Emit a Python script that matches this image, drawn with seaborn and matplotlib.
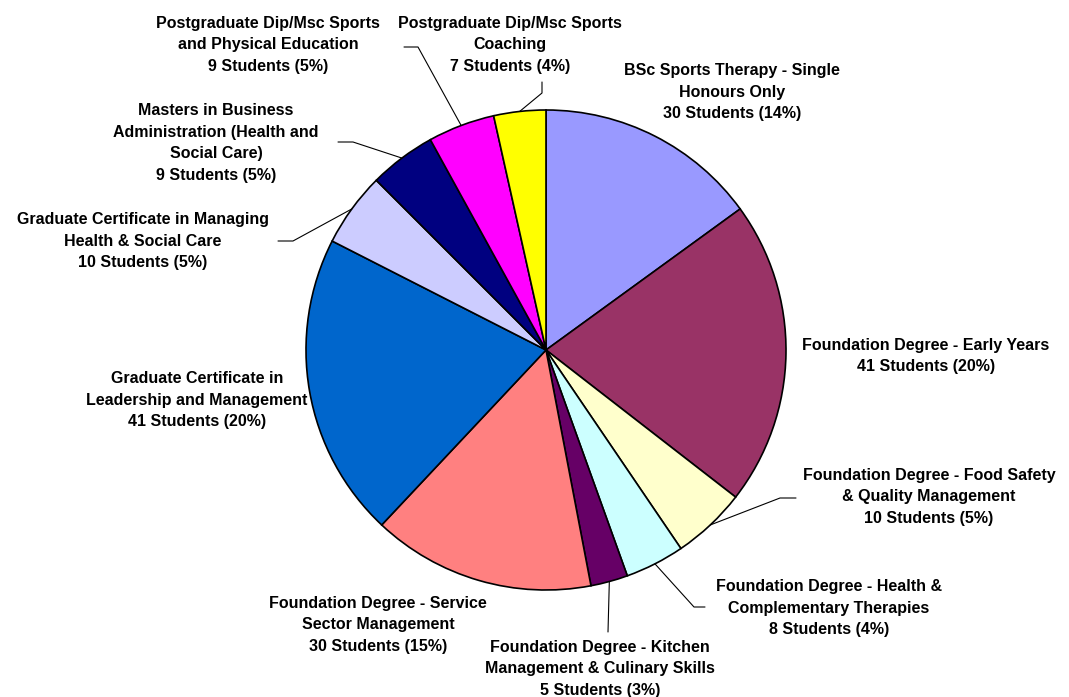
import numpy as np
import matplotlib
matplotlib.use("Agg")
import matplotlib.pyplot as plt
import seaborn as sns

# data, clockwise from 12 o'clock
programmes = [
    "BSc Sports Therapy - Single\nHonours Only",
    "Foundation Degree - Early Years",
    "Foundation Degree - Food Safety\n& Quality Management",
    "Foundation Degree - Health &\nComplementary Therapies",
    "Foundation Degree - Kitchen\nManagement & Culinary Skills",
    "Foundation Degree - Service\nSector Management",
    "Graduate Certificate in\nLeadership and Management",
    "Graduate Certificate in Managing\nHealth & Social Care",
    "Masters in Business\nAdministration (Health and\nSocial Care)",
    "Postgraduate Dip/Msc Sports\nand Physical Education",
    "Postgraduate Dip/Msc Sports\nCoaching",
]
students = [30, 41, 10, 8, 5, 30, 41, 10, 9, 9, 7]
percent_labels = ["14%", "20%", "5%", "4%", "3%", "15%", "20%", "5%", "5%", "5%", "4%"]
colors = ["#9999FF", "#993366", "#FFFFCC", "#CCFFFF", "#660066", "#FF8080",
          "#0066CC", "#CCCCFF", "#000080", "#FF00FF", "#FFFF00"]

# layout (pixel coords, y from top)
W, H = 1069, 697
center = (546, 350)
radius = 240
label_pos = [(732, 92), (926, 356), (929, 497), (829, 608), (600, 669), (378, 625),
             (197, 400), (143, 241), (216, 143), (268, 45), (510, 45)]
# (elbow, end) of leader lines, None = no leader
leaders = [None, None, ((780, 498), (796, 498)), ((694, 607), (705, 607)),
           ((608, 632), (608, 632)), None, None, ((293, 241), (278, 241)),
           ((353, 142), (338, 142)), ((418, 47), (404, 47)), ((542, 93), (542, 82))]

sns.set_style("white")
plt.rcParams["font.family"] = ["Liberation Sans", "DejaVu Sans"]

fig = plt.figure(figsize=(W / 100, H / 100), dpi=100)
ax = fig.add_axes([0, 0, 1, 1])

wedges, _ = ax.pie(students, colors=sns.color_palette(colors), startangle=90,
                   counterclock=False, center=(center[0], H - center[1]), radius=radius,
                   wedgeprops=dict(edgecolor="black", linewidth=1.2), frame=True)
ax.set_xlim(0, W)
ax.set_ylim(0, H)
ax.set_aspect("equal")
ax.axis("off")

for i, w in enumerate(wedges):
    txt = f"{programmes[i]}\n{students[i]} Students ({percent_labels[i]})"
    x, y = label_pos[i]
    ax.text(x, H - y, txt, ha="center", va="center", multialignment="center",
            fontsize=11.5, fontweight="bold", linespacing=1.55, color="black")
    if leaders[i] is not None:
        mid = np.deg2rad((w.theta1 + w.theta2) / 2)
        x0 = center[0] + radius * np.cos(mid)
        y0 = (H - center[1]) + radius * np.sin(mid)
        (ex, ey), (tx, ty) = leaders[i]
        ax.plot([x0, ex, tx], [y0, H - ey, H - ty], color="black", lw=0.8)

fig.savefig("out.png", dpi=100)
